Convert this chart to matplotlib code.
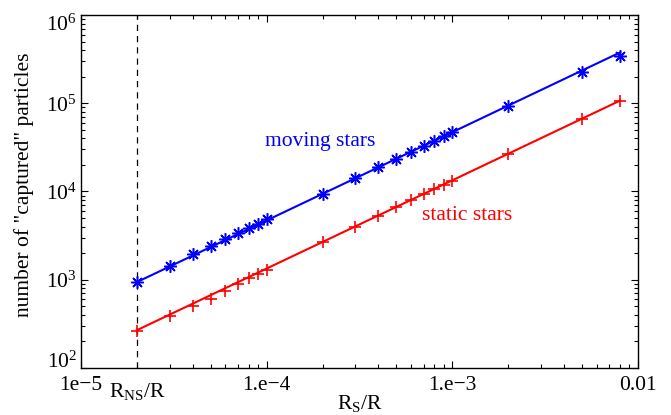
import matplotlib
matplotlib.use("Agg")
import matplotlib.pyplot as plt
import numpy as np

# ---- data ----
rs_over_r = [2e-5, 3e-5, 4e-5, 5e-5, 6e-5, 7e-5, 8e-5, 9e-5, 1e-4,
             2e-4, 3e-4, 4e-4, 5e-4, 6e-4, 7e-4, 8e-4, 9e-4, 1e-3,
             2e-3, 5e-3, 8e-3]
moving_stars = [950, 1440, 1950, 2420, 2870, 3400, 3860, 4330, 4850,
                9400, 14200, 18900, 23600, 28300, 33000, 37700, 42300, 47000,
                93000, 224000, 340000]
static_stars = [265, 385, 505, 610, 740, 895, 1040, 1160, 1290,
                2650, 3950, 5300, 6600, 7950, 9300, 10600, 11900, 13300,
                26400, 66500, 107000]
fit_x = [2e-5, 8e-3]
moving_fit = [940, 376000]
static_fit = [268, 107000]
r_ns = 2e-5
xtick_vals = [1e-5, 1e-4, 1e-3, 1e-2]
xtick_labels = ["1e\u22125", "1.e\u22124", "1.e\u22123", "0.01"]
ytick_vals = [1e2, 1e3, 1e4, 1e5, 1e6]
ytick_labels = [r"$10^{2}$", r"$10^{3}$", r"$10^{4}$", r"$10^{5}$", r"$10^{6}$"]

plt.rcParams['font.family'] = ['Liberation Serif', 'DejaVu Serif']
plt.rcParams['mathtext.fontset'] = 'custom'
plt.rcParams['mathtext.rm'] = 'Liberation Serif'
plt.rcParams['mathtext.it'] = 'Liberation Serif:italic'

FS = 15.5

fig = plt.figure(figsize=(6.71, 4.15), dpi=100)
ax = fig.add_axes([0.1207, 0.1133, 0.8301, 0.8506])
ax.set_xscale('log')
ax.set_yscale('log')
ax.set_xlim(1e-5, 1e-2)
ax.set_ylim(1e2, 1e6)

ax.axvline(r_ns, color='black', linestyle=(0, (5, 4)), linewidth=0.9)

ax.plot(fit_x, moving_fit, color='#0000ff', linewidth=1.5)
ax.plot(fit_x, static_fit, color='#ff0000', linewidth=1.5)
ax.plot(rs_over_r, moving_stars, linestyle='none', marker=(8, 2, 0),
        markersize=9, markeredgewidth=1.1, color='#0000ff')
ax.plot(rs_over_r, static_stars, linestyle='none', marker='+',
        markersize=9, markeredgewidth=1.2, color='#ff0000')

ax.text(9.8e-5, 3.64e4, "moving stars", color='#0000ff', fontsize=FS,
        ha='left', va='center')
ax.text(6.86e-4, 5.4e3, "static stars", color='#ff0000', fontsize=FS,
        ha='left', va='center')

ax.set_xticks(xtick_vals)
ax.set_xticklabels(xtick_labels)
ax.set_yticks(ytick_vals)
ax.set_yticklabels(ytick_labels)
ax.xaxis.set_minor_locator(matplotlib.ticker.LogLocator(base=10, subs=np.arange(2, 10)))
ax.yaxis.set_minor_locator(matplotlib.ticker.LogLocator(base=10, subs=np.arange(2, 10)))
ax.xaxis.set_minor_formatter(matplotlib.ticker.NullFormatter())
ax.yaxis.set_minor_formatter(matplotlib.ticker.NullFormatter())
ax.tick_params(which='both', direction='in', top=True, right=True,
               labelsize=FS, width=0.8, colors='black')
ax.tick_params(which='major', length=5)
ax.tick_params(which='minor', length=3)
ax.tick_params(axis='x', which='major', pad=6)
ax.tick_params(axis='y', which='major', pad=3)
for s in ax.spines.values():
    s.set_linewidth(1.0)

# first and last y tick labels kept inside the axis range (as in reference)
ylabels = ax.get_yticklabels()
ylabels[0].set_va('baseline')
ylabels[-1].set_va('top')

ax.set_ylabel('number of "captured" particles', fontsize=FS)
ax.yaxis.set_label_coords(-0.084, 0.518)
ax.set_xlabel(r"R$_{\mathrm{S}}$/R", fontsize=FS, labelpad=-2)
ax.text(r_ns, -0.038, r"R$_{\mathrm{NS}}$/R", transform=ax.get_xaxis_transform(),
        fontsize=FS, ha='center', va='top')

fig.savefig("out.png", dpi=100)
